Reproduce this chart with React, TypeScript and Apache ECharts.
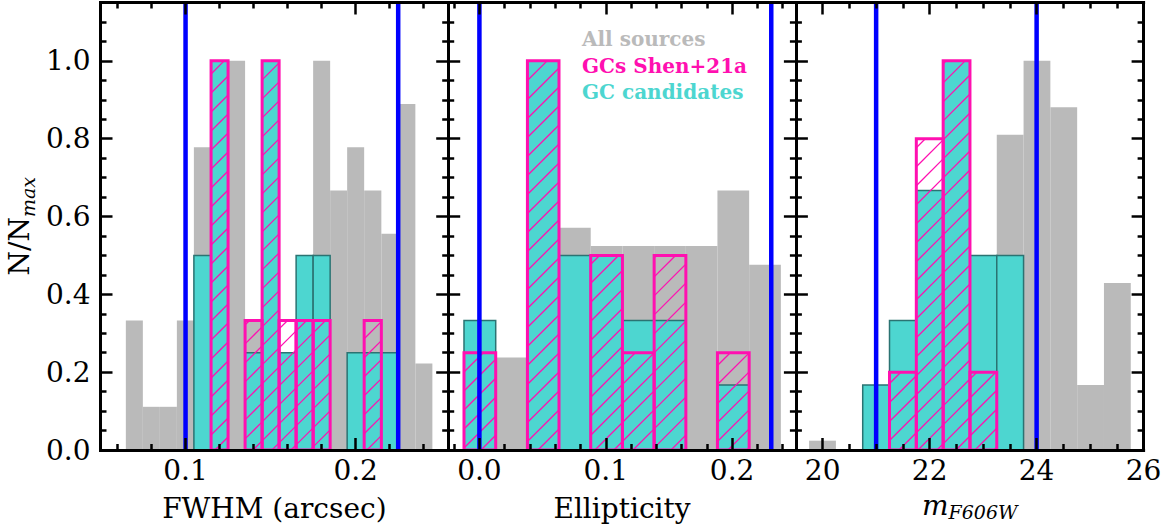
import React, { useEffect, useRef } from 'react';
import * as echarts from 'echarts';

// ---------------- data ----------------
// FWHM (arcsec) panel: 18 equal bins
const fwhmEdges = [0.0649, 0.0749, 0.0849, 0.0949, 0.1049, 0.115, 0.125, 0.135, 0.145, 0.155, 0.165, 0.175, 0.185, 0.195, 0.205, 0.2151, 0.2251, 0.2351, 0.2451];
const fwhmAll = [0.333, 0.111, 0.111, 0.333, 0.778, 0.889, 1.0, 0.333, 0.556, 0.222, 0.444, 1.0, 0.667, 0.778, 0.667, 0.556, 0.889, 0.222];
const fwhmCand = [0, 0, 0, 0, 0.5, 1.0, 0, 0.25, 1.0, 0.25, 0.5, 0.5, 0, 0.25, 0.25, 0.25, 0, 0];
const fwhmShen = [0, 0, 0, 0, 0, 1.0, 0, 0.333, 1.0, 0.333, 0.333, 0.333, 0, 0, 0.333, 0, 0, 0];
const fwhmLimits = [0.1, 0.225];

// Ellipticity panel: 10 equal bins
const ellEdges = [-0.0122, 0.0129, 0.038, 0.063, 0.0881, 0.1132, 0.1383, 0.1634, 0.1884, 0.2135, 0.2386];
const ellAll = [0.238, 0.238, 0.476, 0.571, 0.524, 0.524, 0.524, 0.524, 0.667, 0.476];
const ellCand = [0.333, 0, 1.0, 0.5, 0.5, 0.333, 0.333, 0, 0.167, 0];
const ellShen = [0.25, 0, 1.0, 0, 0.5, 0.25, 0.5, 0, 0.25, 0];
const ellLimits = [0.0, 0.231];

// m_F606W panel: 12 equal bins
const magEdges = [19.747, 20.248, 20.749, 21.25, 21.751, 22.253, 22.754, 23.255, 23.756, 24.257, 24.758, 25.259, 25.76];
const magAll = [0.024, 0, 0.048, 0.143, 0.357, 0.5, 0.476, 0.81, 1.0, 0.881, 0.167, 0.429];
const magCand = [0, 0, 0.167, 0.333, 0.667, 1.0, 0.5, 0.5, 0, 0, 0, 0];
const magShen = [0, 0, 0, 0.2, 0.8, 1.0, 0.2, 0, 0, 0, 0, 0];
const magLimits = [21, 24];

// axes
const yMajorTicks = [0, 0.2, 0.4, 0.6, 0.8, 1.0];
const yMinorTicks = [0.05, 0.1, 0.15, 0.25, 0.3, 0.35, 0.45, 0.5, 0.55, 0.65, 0.7, 0.75, 0.85, 0.9, 0.95, 1.05, 1.1];
const fwhmMajorTicks = [0.1, 0.2];
const fwhmMinorTicks = [0.06, 0.08, 0.12, 0.14, 0.16, 0.18, 0.22, 0.24];
const ellMajorTicks = [0.0, 0.1, 0.2];
const ellMinorTicks = [-0.02, 0.02, 0.04, 0.06, 0.08, 0.12, 0.14, 0.16, 0.18, 0.22, 0.24];
const magMajorTicks = [20, 22, 24, 26];
const magMinorTicks = [20.5, 21, 21.5, 22.5, 23, 23.5, 24.5, 25, 25.5];

const legendLabels = ['All sources', 'GCs Shen+21a', 'GC candidates'];

// ---------------- styling ----------------
const GRAY = '#bababa';
const TURQ = '#4dd6d0';
const TURQ_EDGE = '#2b7372';
const MAGENTA = '#ff10b0';
const BLUE = '#0000ff';
const FONT = 'DejaVu Serif';
const TICK_FS = 28;
const HATCH = 19;

const GRID_LEFT = 100.5;
const GRID_W = 347.7;
const GRID_TOP = 2.5;
const GRID_H = 447.5;
const Y_MAX = 1.15;

function bins(edges: number[], vals: number[]) {
  const out: number[][] = [];
  vals.forEach((v, i) => {
    if (v > 0) out.push([edges[i], edges[i + 1], v]);
  });
  return out;
}

function rectOf(api: any) {
  const a = api.coord([api.value(0), api.value(2)]);
  const b = api.coord([api.value(1), 0]);
  return { L: a[0], R: b[0], T: a[1], B: b[1] };
}

function renderFill(fill: string, stroke: string | null, lw: number) {
  return (_p: any, api: any) => {
    const { L, R, T, B } = rectOf(api);
    return {
      type: 'rect',
      shape: { x: L, y: T, width: R - L, height: B - T },
      style: { fill, stroke: stroke || 'none', lineWidth: lw },
    };
  };
}

function renderHatched(_p: any, api: any) {
  const { L, R, T, B } = rectOf(api);
  const children: any[] = [];
  const cStart = Math.ceil((L + T) / HATCH) * HATCH;
  for (let c = cStart; c < R + B; c += HATCH) {
    const xa = Math.max(L, c - B);
    const xb = Math.min(R, c - T);
    if (xb - xa < 0.5) continue;
    children.push({
      type: 'line',
      shape: { x1: xa, y1: c - xa, x2: xb, y2: c - xb },
      style: { stroke: MAGENTA, lineWidth: 1.3 },
    });
  }
  children.push({
    type: 'rect',
    shape: { x: L, y: T, width: R - L, height: B - T },
    style: { fill: 'none', stroke: MAGENTA, lineWidth: 3 },
  });
  return { type: 'group', children };
}

function renderLimit(_p: any, api: any) {
  const v = api.value(0);
  const a = api.coord([v, 0]);
  const b = api.coord([v, Y_MAX]);
  return {
    type: 'line',
    shape: { x1: a[0], y1: a[1], x2: b[0], y2: b[1] },
    style: { stroke: BLUE, lineWidth: 4.5 },
  };
}

const tickStyle = { color: '#000', width: 2.5 };
const lineStyle = { color: '#000', width: 3, cap: 'square' };

function makeXAxes(g: number, min: number, max: number, majors: number[], minors: number[], fmt: (v: number) => string, name: string, nameGap: number, rich?: any) {
  const common = { gridIndex: g, type: 'value', min, max, splitLine: { show: false }, z: 10 };
  return [
    {
      ...common,
      position: 'bottom',
      axisLine: { show: true, onZero: false, lineStyle },
      axisTick: { show: true, inside: true, length: 12, customValues: majors, lineStyle: tickStyle },
      axisLabel: { show: true, customValues: majors, formatter: fmt, fontFamily: FONT, fontSize: TICK_FS, color: '#000', margin: 6 },
      name,
      nameLocation: 'middle',
      nameGap,
      nameTextStyle: { fontFamily: FONT, fontSize: TICK_FS, color: '#000', rich },
    },
    {
      ...common,
      position: 'bottom',
      axisLine: { show: false, onZero: false },
      axisTick: { show: true, inside: true, length: 6, customValues: minors, lineStyle: tickStyle },
      axisLabel: { show: false },
    },
    {
      ...common,
      position: 'top',
      axisLine: { show: true, onZero: false, lineStyle },
      axisTick: { show: true, inside: true, length: 12, customValues: majors, lineStyle: tickStyle },
      axisLabel: { show: false },
    },
    {
      ...common,
      position: 'top',
      axisLine: { show: false, onZero: false },
      axisTick: { show: true, inside: true, length: 6, customValues: minors, lineStyle: tickStyle },
      axisLabel: { show: false },
    },
  ];
}

function makeYAxes(g: number, showLabels: boolean) {
  const common = { gridIndex: g, type: 'value', min: 0, max: Y_MAX, splitLine: { show: false }, z: 10 };
  const first: any = {
    ...common,
    position: 'left',
    axisLine: { show: true, onZero: false, lineStyle },
    axisTick: { show: true, inside: true, length: 12, customValues: yMajorTicks, lineStyle: tickStyle },
    axisLabel: {
      show: showLabels,
      customValues: yMajorTicks,
      formatter: (v: number) => v.toFixed(1),
      fontFamily: FONT,
      fontSize: TICK_FS,
      color: '#000',
      margin: 10,
    },
  };
  if (showLabels) {
    first.name = '{a|N/N}{b|max}';
    first.nameLocation = 'middle';
    first.nameRotate = 90;
    first.nameGap = 63;
    first.nameTextStyle = {
      rich: {
        a: { fontFamily: FONT, fontSize: TICK_FS, color: '#000', lineHeight: 32, verticalAlign: 'top' },
        b: { fontFamily: FONT, fontSize: 19, fontStyle: 'italic', color: '#000', lineHeight: 18, verticalAlign: 'bottom' },
      },
    };
  }
  return [
    first,
    {
      ...common,
      position: 'left',
      axisLine: { show: false, onZero: false },
      axisTick: { show: true, inside: true, length: 6, customValues: yMinorTicks, lineStyle: tickStyle },
      axisLabel: { show: false },
    },
    {
      ...common,
      position: 'right',
      axisLine: { show: true, onZero: false, lineStyle },
      axisTick: { show: true, inside: true, length: 12, customValues: yMajorTicks, lineStyle: tickStyle },
      axisLabel: { show: false },
    },
    {
      ...common,
      position: 'right',
      axisLine: { show: false, onZero: false },
      axisTick: { show: true, inside: true, length: 6, customValues: yMinorTicks, lineStyle: tickStyle },
      axisLabel: { show: false },
    },
  ];
}

function panelSeries(g: number, edges: number[], all: number[], cand: number[], shen: number[], limits: number[]) {
  const xi = g * 4;
  const yi = g * 4;
  const base = { type: 'custom', xAxisIndex: xi, yAxisIndex: yi, clip: true, encode: { x: [0, 1], y: 2 } };
  return [
    { ...base, name: 'All sources', z: 1, renderItem: renderFill(GRAY, null, 0), data: bins(edges, all) },
    { ...base, name: 'GC candidates', z: 2, renderItem: renderFill(TURQ, TURQ_EDGE, 1.5), data: bins(edges, cand) },
    { ...base, name: 'GCs Shen+21a', z: 3, renderItem: renderHatched, data: bins(edges, shen) },
    { ...base, name: 'limits', z: 4, encode: { x: 0 }, renderItem: renderLimit, data: limits.map((v) => [v]) },
  ];
}

export default function App() {
  const ref = useRef<HTMLDivElement>(null);
  useEffect(() => {
    if (!ref.current) return;
    const chart = echarts.init(ref.current, null, { renderer: 'svg' });
    const grids = [0, 1, 2].map((i) => ({
      left: GRID_LEFT + i * GRID_W,
      top: GRID_TOP,
      width: GRID_W,
      height: GRID_H,
      containLabel: false,
      outerBoundsMode: 'none',
    }));
    const fmt1 = (v: number) => v.toFixed(1);
    const fmt0 = (v: number) => String(Math.round(v));
    const xAxis = [
      ...makeXAxes(0, 0.05, 0.2544, fwhmMajorTicks, fwhmMinorTicks, fmt1, 'FWHM (arcsec)', 44),
      ...makeXAxes(1, -0.0247, 0.2505, ellMajorTicks, ellMinorTicks, fmt1, 'Ellipticity', 44),
      ...makeXAxes(2, 19.5, 26.0, magMajorTicks, magMinorTicks, fmt0, '{m|m}{s|F606W}', 41, {
        m: { fontFamily: FONT, fontSize: TICK_FS, fontStyle: 'italic', color: '#000', lineHeight: 30, verticalAlign: 'top' },
        s: { fontFamily: FONT, fontSize: 19, fontStyle: 'italic', color: '#000', lineHeight: 18, verticalAlign: 'bottom' },
      }),
    ];
    const yAxis = [...makeYAxes(0, true), ...makeYAxes(1, false), ...makeYAxes(2, false)];
    const legendColors = [GRAY, MAGENTA, TURQ];
    const graphic = legendLabels.map((t, i) => ({
      type: 'text',
      x: 582,
      y: 39 + i * 26.5,
      z: 20,
      style: {
        text: t,
        fill: legendColors[i],
        font: `bold 20px "${FONT}"`,
        verticalAlign: 'middle',
        align: 'left',
      },
    }));
    chart.setOption({
      animation: false,
      backgroundColor: '#fff',
      grid: grids,
      xAxis,
      yAxis,
      graphic,
      series: [
        ...panelSeries(0, fwhmEdges, fwhmAll, fwhmCand, fwhmShen, fwhmLimits),
        ...panelSeries(1, ellEdges, ellAll, ellCand, ellShen, ellLimits),
        ...panelSeries(2, magEdges, magAll, magCand, magShen, magLimits),
      ],
    } as any);
    return () => chart.dispose();
  }, []);
  return <div ref={ref} style={{ position: 'absolute', left: 0, top: 0, width: 1167, height: 524 }} />;
}
